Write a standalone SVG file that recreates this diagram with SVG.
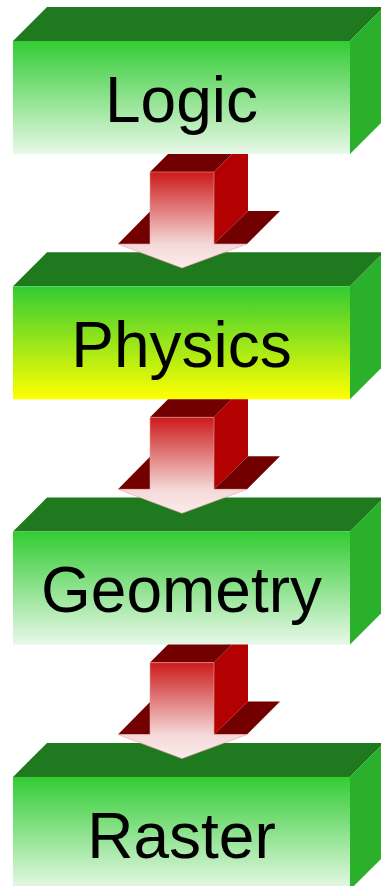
<svg xmlns="http://www.w3.org/2000/svg" width="381" height="886" viewBox="0 0 381 886">
  <defs>
    <linearGradient id="gGreen" x1="0" y1="0" x2="0" y2="1">
      <stop offset="0" stop-color="#33cc33"/>
      <stop offset="1" stop-color="#e8f8e8"/>
    </linearGradient>
    <linearGradient id="gYellow" x1="0" y1="0" x2="0" y2="1">
      <stop offset="0" stop-color="#33cc33"/>
      <stop offset="1" stop-color="#ffff00"/>
    </linearGradient>
    <linearGradient id="gRed" x1="0" y1="0" x2="0" y2="1">
      <stop offset="0" stop-color="#cc1a1a"/>
      <stop offset="0.75" stop-color="#f5d8d8"/>
      <stop offset="1" stop-color="#fcecec"/>
    </linearGradient>
  </defs>
  <style>
    .top { fill: #1f7a1f; }
    .side { fill: #2bb02b; }
    .lbl { font-family: "Liberation Sans", Arial, sans-serif; font-size: 64px; fill: #000; text-anchor: middle; }
    .atop { fill: #730000; }
    .aside { fill: #b30000; }
    .afront { fill: url(#gRed); stroke: #e8a0a0; stroke-width: 0.6; }
  </style>

  <g id="logic" transform="translate(0,41)">
    <polygon class="top" points="13,0 47,-34 384,-34 350,0"/>
    <polygon class="side" points="350,0 384,-34 384,79 350,113"/>
    <rect x="13" y="0" width="337" height="113" fill="url(#gGreen)"/>
    <text class="lbl" x="181.5" y="80.7">Logic</text>
  </g>

  <g id="physics" transform="translate(0,286.3)">
    <polygon class="top" points="13,0 47,-34 384,-34 350,0"/>
    <polygon class="side" points="350,0 384,-34 384,79 350,113"/>
    <rect x="13" y="0" width="337" height="113" fill="url(#gYellow)"/>
    <text class="lbl" x="181.5" y="80.7">Physics</text>
  </g>

  <g id="geometry" transform="translate(0,531.6)">
    <polygon class="top" points="13,0 47,-34 384,-34 350,0"/>
    <polygon class="side" points="350,0 384,-34 384,79 350,113"/>
    <rect x="13" y="0" width="337" height="113" fill="url(#gGreen)"/>
    <text class="lbl" x="181.5" y="80.7">Geometry</text>
  </g>

  <g id="raster" transform="translate(0,776.9)">
    <polygon class="top" points="13,0 47,-34 384,-34 350,0"/>
    <polygon class="side" points="350,0 384,-34 384,79 350,113"/>
    <rect x="13" y="0" width="337" height="113" fill="url(#gGreen)"/>
    <text class="lbl" x="181.5" y="80.7">Raster</text>
  </g>

  <g id="connectors">
    <g id="arrow1" transform="translate(0,172)">
      <polygon class="atop" points="150,0 214,0 232,-18 168,-18"/>
      <polygon class="aside" points="214,0 232,-18 248,-18 248,39 214,72"/>
      <polygon class="atop" points="118,72 150,39.5 150,72"/>
      <polygon class="atop" points="214,72 248,39 280,39 247,72"/>
      <polygon class="afront" points="150,0 214,0 214,72 247,72 182,96 118,72 150,72"/>
    </g>
    <g id="arrow2" transform="translate(0,417.3)">
      <polygon class="atop" points="150,0 214,0 232,-18 168,-18"/>
      <polygon class="aside" points="214,0 232,-18 248,-18 248,39 214,72"/>
      <polygon class="atop" points="118,72 150,39.5 150,72"/>
      <polygon class="atop" points="214,72 248,39 280,39 247,72"/>
      <polygon class="afront" points="150,0 214,0 214,72 247,72 182,96 118,72 150,72"/>
    </g>
    <g id="arrow3" transform="translate(0,662.6)">
      <polygon class="atop" points="150,0 214,0 232,-18 168,-18"/>
      <polygon class="aside" points="214,0 232,-18 248,-18 248,39 214,72"/>
      <polygon class="atop" points="118,72 150,39.5 150,72"/>
      <polygon class="atop" points="214,72 248,39 280,39 247,72"/>
      <polygon class="afront" points="150,0 214,0 214,72 247,72 182,96 118,72 150,72"/>
    </g>
  </g>
</svg>
